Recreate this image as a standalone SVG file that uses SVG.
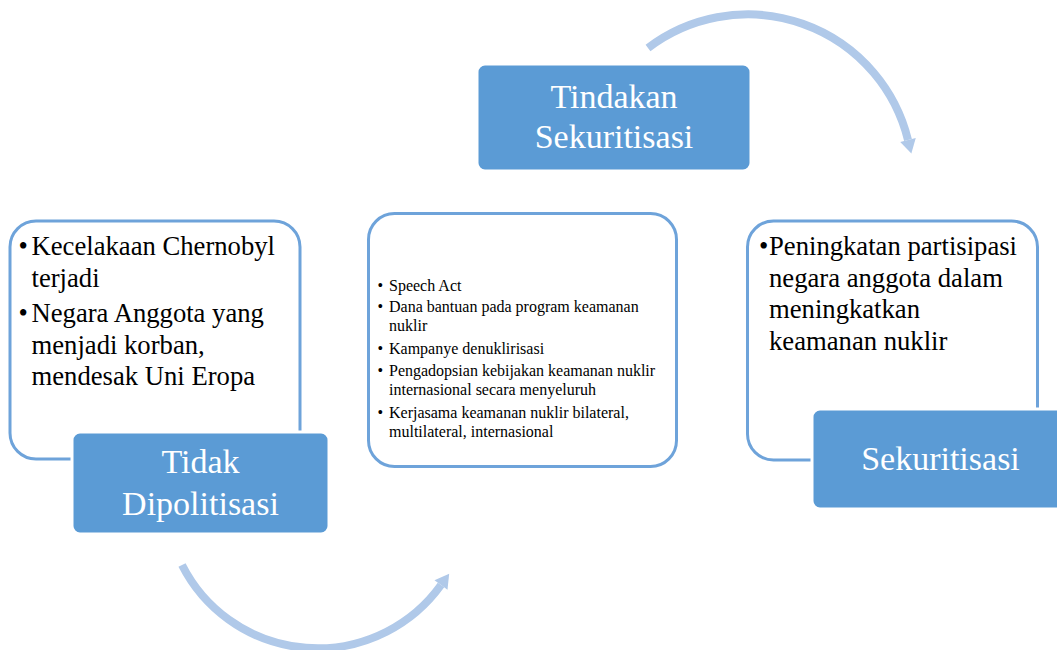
<svg xmlns="http://www.w3.org/2000/svg" width="1057" height="650" viewBox="0 0 1057 650">
  <style>
    .outline { fill: #ffffff; stroke: #6ea3da; stroke-width: 3; }
    .dark { fill: #5b9bd5; stroke: #ffffff; stroke-width: 3; }
    .txt { font-family: "Liberation Serif", "Times New Roman", serif; fill: #000000; }
    .big { font-size: 26.67px; }
    .small { font-size: 16px; }
    .label { font-family: "Liberation Serif", "Times New Roman", serif; font-size: 34px; fill: #ffffff; text-anchor: middle; }
    .arc { fill: none; stroke: #b0c9e9; stroke-width: 8; }
  </style>
  <defs>
    <marker id="head" markerUnits="userSpaceOnUse" markerWidth="20" markerHeight="20" refX="2" refY="10" orient="auto">
      <path d="M2,2 L16,10 L2,18 Z" fill="#b0c9e9"/>
    </marker>
  </defs>
  <rect width="1057" height="650" fill="#ffffff"/>

  <g id="connectors">
    <path class="arc" d="M648,48 A165,165 0 0 1 908,140" marker-end="url(#head)"/>
    <path class="arc" d="M182,565 A152,152 0 0 0 441,585" marker-end="url(#head)"/>
  </g>

  <g id="node-tidak-dipolitisasi">
    <rect class="outline" x="10" y="221" width="290" height="238" rx="26"/>
    <text class="txt big" x="18.5" y="255">•</text>
    <text class="txt big" x="31.5" y="255">Kecelakaan Chernobyl</text>
    <text class="txt big" x="31.5" y="287">terjadi</text>
    <text class="txt big" x="18.5" y="322">•</text>
    <text class="txt big" x="31.5" y="322">Negara Anggota yang</text>
    <text class="txt big" x="31.5" y="353.5">menjadi korban,</text>
    <text class="txt big" x="31.5" y="385">mendesak Uni Eropa</text>
    <rect class="dark" x="72" y="432" width="257" height="102" rx="8"/>
    <text class="label" x="200.5" y="473">Tidak</text>
    <text class="label" x="200.5" y="515">Dipolitisasi</text>
  </g>

  <g id="node-tindakan">
    <rect class="outline" x="368.5" y="213.5" width="308" height="253" rx="26"/>
    <text class="txt small" x="377.5" y="290.5">•</text>
    <text class="txt small" x="389" y="290.5">Speech Act</text>
    <text class="txt small" x="377.5" y="312">•</text>
    <text class="txt small" x="389" y="312">Dana bantuan pada program keamanan</text>
    <text class="txt small" x="389" y="331">nuklir</text>
    <text class="txt small" x="377.5" y="354">•</text>
    <text class="txt small" x="389" y="354">Kampanye denuklirisasi</text>
    <text class="txt small" x="377.5" y="375.5">•</text>
    <text class="txt small" x="389" y="375.5">Pengadopsian kebijakan keamanan nuklir</text>
    <text class="txt small" x="389" y="394.5">internasional secara menyeluruh</text>
    <text class="txt small" x="377.5" y="417.5">•</text>
    <text class="txt small" x="389" y="417.5">Kerjasama keamanan nuklir bilateral,</text>
    <text class="txt small" x="389" y="436.5">multilateral, internasional</text>
    <rect class="dark" x="477" y="64" width="274" height="107" rx="8"/>
    <text class="label" x="614" y="108">Tindakan</text>
    <text class="label" x="614" y="148">Sekuritisasi</text>
  </g>

  <g id="node-sekuritisasi">
    <rect class="outline" x="747.5" y="221" width="290" height="239" rx="26"/>
    <text class="txt big" x="759" y="255">•</text>
    <text class="txt big" x="769" y="255">Peningkatan partisipasi</text>
    <text class="txt big" x="769" y="286.5">negara anggota dalam</text>
    <text class="txt big" x="769" y="318">meningkatkan</text>
    <text class="txt big" x="769" y="349.5">keamanan nuklir</text>
    <rect class="dark" x="812" y="409" width="252" height="100" rx="8"/>
    <text class="label" x="940.5" y="470">Sekuritisasi</text>
  </g>
</svg>
